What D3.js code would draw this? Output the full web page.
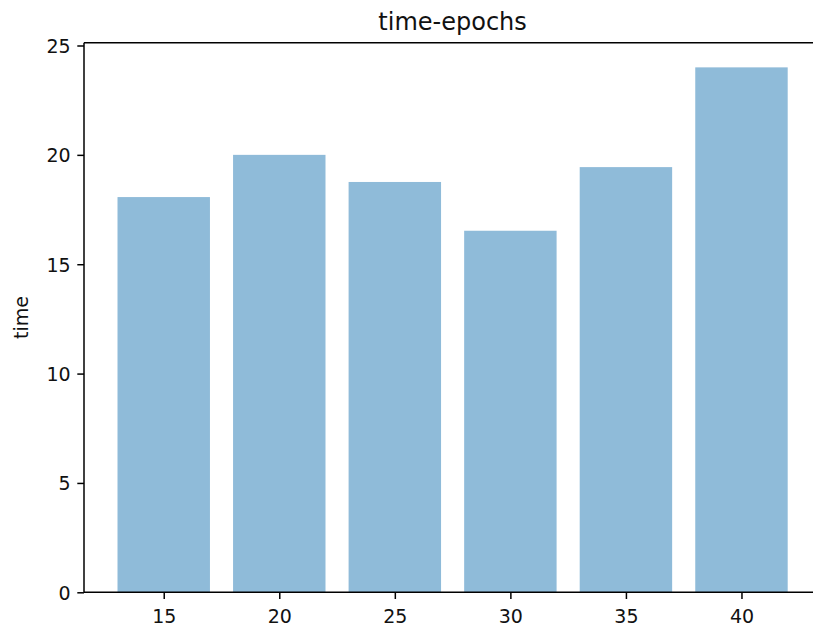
<!DOCTYPE html>
<html>
<head>
<meta charset="utf-8">
<script src="https://cdn.jsdelivr.net/npm/d3@7"></script>
<style>
  html, body { margin: 0; padding: 0; background: #fff; }
  svg { display: block; font-family: "DejaVu Sans", sans-serif; }
</style>
</head>
<body>
<svg id="chart" width="813" height="628"></svg>
<script>
// Training time per run, grouped by number of epochs
const epochs = [15, 20, 25, 30, 35, 40];
const times = [18.07, 20.0, 18.76, 16.53, 19.44, 24.0];
const yTicks = [0, 5, 10, 15, 20, 25];
const title = "time-epochs";
const yLabel = "time";

const W = 813, H = 628;
const plot = { left: 84, right: 821.2, top: 42.7, bottom: 592.3 };
const barWidth = 4;

const svg = d3.select("#chart");

// x limits: bar extents plus a 5% margin each side
const xLo = d3.min(epochs) - barWidth / 2, xHi = d3.max(epochs) + barWidth / 2;
const xPad = (xHi - xLo) * 0.05;
const x = d3.scaleLinear().domain([xLo - xPad, xHi + xPad]).range([plot.left, plot.right]);
const y = d3.scaleLinear().domain([0, d3.max(times) * 1.047]).range([plot.bottom, plot.top]);

// bars
svg.append("g")
  .selectAll("rect")
  .data(epochs.map((e, i) => ({ e, t: times[i] })))
  .join("rect")
  .attr("x", d => x(d.e - barWidth / 2))
  .attr("width", d => x(d.e + barWidth / 2) - x(d.e - barWidth / 2))
  .attr("y", d => y(d.t))
  .attr("height", d => y(0) - y(d.t))
  .attr("fill", "#1f77b4")
  .attr("fill-opacity", 0.5);

// axes
const tickLen = 6.7, tickPad = 6.7;
const xAxis = d3.axisBottom(x).tickValues(epochs).tickSize(tickLen).tickPadding(tickPad).tickSizeOuter(0);
const yAxis = d3.axisLeft(y).tickValues(yTicks).tickSize(tickLen).tickPadding(tickPad).tickSizeOuter(0);

const gx = svg.append("g").attr("transform", `translate(0,${plot.bottom})`).call(xAxis);
const gy = svg.append("g").attr("transform", `translate(${plot.left},0)`).call(yAxis);

[gx, gy].forEach(g => {
  g.select(".domain").remove();
  g.selectAll(".tick line").attr("stroke", "#000").attr("stroke-width", 1.5);
  g.selectAll(".tick text")
    .attr("fill", "#111")
    .style("font-family", "'DejaVu Sans', sans-serif")
    .style("font-size", "19px");
});
gx.selectAll(".tick text").attr("dy", null).attr("y", 31);
gy.selectAll(".tick text").attr("dy", "0.36em");

// spines (left, bottom, top; the right one lies past the page edge)
const spines = svg.append("g").attr("stroke", "#000").attr("stroke-width", 1.5).attr("fill", "none");
spines.append("line").attr("x1", plot.left).attr("x2", plot.left).attr("y1", plot.top).attr("y2", plot.bottom);
spines.append("line").attr("x1", plot.left).attr("x2", plot.right).attr("y1", plot.bottom).attr("y2", plot.bottom);
spines.append("line").attr("x1", plot.left).attr("x2", plot.right).attr("y1", plot.top).attr("y2", plot.top);
spines.append("line").attr("x1", plot.right).attr("x2", plot.right).attr("y1", plot.top).attr("y2", plot.bottom);

// title
svg.append("text")
  .attr("x", (plot.left + plot.right) / 2)
  .attr("y", 30)
  .attr("text-anchor", "middle")
  .style("font-size", "24px")
  .attr("fill", "#111")
  .text(title);

// y label
svg.append("text")
  .attr("transform", `translate(28.3,${(plot.top + plot.bottom) / 2}) rotate(-90)`)
  .attr("text-anchor", "middle")
  .style("font-size", "19px")
  .attr("fill", "#111")
  .text(yLabel);
</script>
</body>
</html>
